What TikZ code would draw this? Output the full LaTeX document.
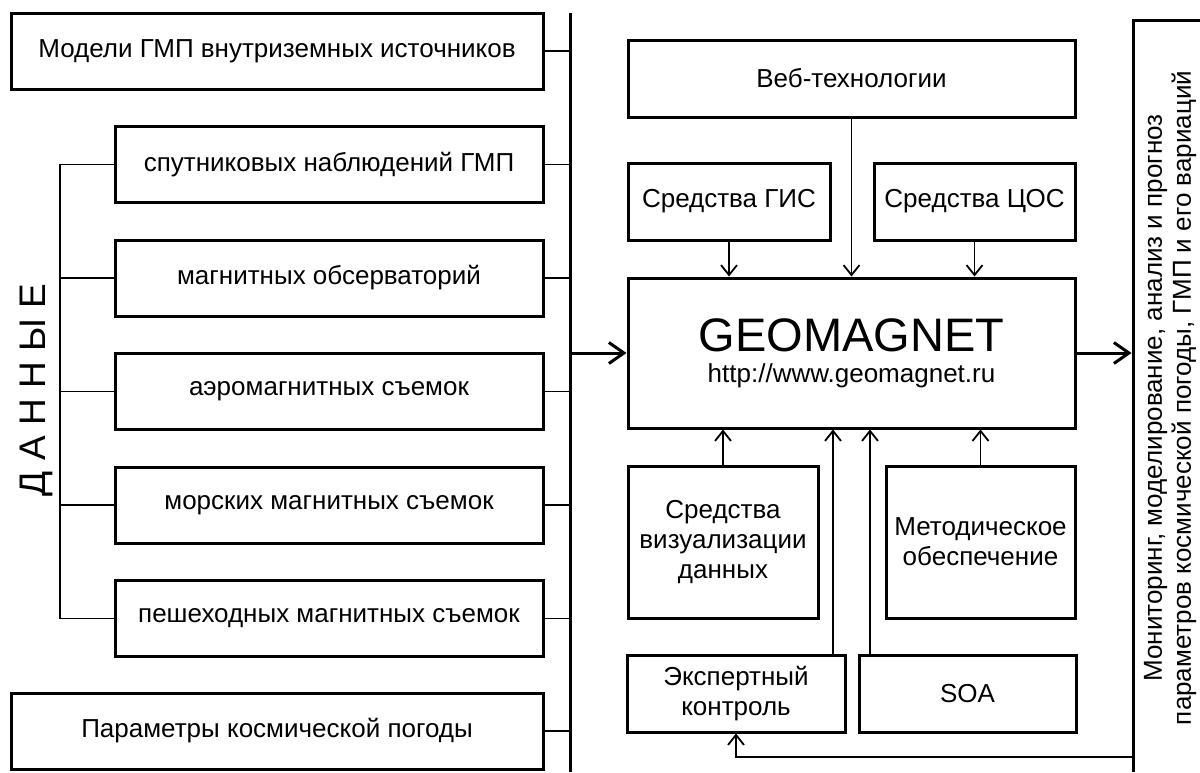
\documentclass[tikz,border=0pt]{standalone}
\usepackage{fontspec}
\setmainfont{Liberation Sans}
\usetikzlibrary{arrows.meta, positioning, calc}
\tikzset{
    blockbox/.style={draw, rectangle, line width=3pt, inner sep=0pt, outer sep=0pt, align=center, font=\fontsize{26}{30}\selectfont},
    databox/.style={blockbox, minimum width=532pt, minimum height=76pt},
    srcbox/.style={blockbox, minimum width=428pt, minimum height=76pt},
    toolbox/.style={blockbox, minimum height=77pt},
    bus/.style={line width=3pt},
    stub/.style={line width=1.4pt},
    mainarrow/.style={line width=3pt, shorten >=1.5pt, -{Straight Barb[length=15pt,width=21pt]}},
    linkarrow/.style={line width=1.4pt, shorten >=1.5pt, -{Straight Barb[length=10pt,width=16pt,line width=1.8pt]}},
}
\begin{document}
\begin{tikzpicture}[x=1pt, y=-1pt, node distance=37.5pt]
    \useasboundingbox (0,0) rectangle (1200,772);

    % Data sources
    \node[databox] (models) at (277,51) {Модели ГМП внутриземных источников};
    \node[srcbox] (sat) at (329,164.5) {спутниковых наблюдений ГМП};
    \node[srcbox, below=of sat] (obs) {магнитных обсерваторий};
    \node[srcbox, below=of obs] (aero) {аэромагнитных съемок};
    \node[srcbox, below=of aero] (sea) {морских магнитных съемок};
    \node[srcbox, below=of sea] (foot) {пешеходных магнитных съемок};
    \node[databox] (space) at (277,731) {Параметры космической погоды};
    \node[rotate=90, font=\fontsize{37}{40}\selectfont] (data) at (36,390) {Д А Н Н Ы Е};

    \coordinate (bustop) at (570,13);
    \coordinate (busend) at (570,772);
    \coordinate (brk) at (60,0);
    \draw[bus] (bustop) -- (busend);
    \foreach \n in {models,sat,obs,aero,sea,foot,space}
        \draw[stub] (\n.east) -- (\n.east -| bustop);
    \draw[stub] (sat.west) -- (sat.west -| brk) -- (foot.west -| brk) -- (foot.west);
    \foreach \n in {obs,aero,sea}
        \draw[stub] (\n.west) -- (\n.west -| brk);

    % Portal and its tools
    \node[blockbox, minimum width=447pt, minimum height=150pt, font=\fontsize{26}{31}\selectfont] (geo) at (851.5,353)
          {{\fontsize{47}{50}\selectfont GEOMAGNET}\\http://www.geomagnet.ru};
    \node[toolbox, minimum width=447pt] (web) at (851.5,78.5) {Веб-технологии};
    \node[toolbox, minimum width=202pt] (gis) at (729,201.5) {Средства ГИС};
    \node[toolbox, minimum width=201pt] (cos) at (974.5,201.5) {Средства ЦОС};
    \node[blockbox, minimum width=190pt, minimum height=152pt] (vis) at (723,542) {Средства\\визуализации\\данных};
    \node[blockbox, minimum width=189pt, minimum height=152pt] (met) at (980.5,542) {Методическое\\обеспечение};
    \node[toolbox, minimum width=218pt] (exp) at (736,693.5) {Экспертный\\контроль};
    \node[toolbox, minimum width=217pt] (soa) at (967.5,693.5) {SOA};

    % Results
    \coordinate (outtop) at (1133,20);
    \coordinate (outbot) at (1133,772);
    \coordinate (outend) at (1200,20);
    \draw[bus] (outbot) -- (outtop) -- (outend);
    \node[rotate=90, align=center, font=\fontsize{26}{29}\selectfont] (goal) at (1170,398)
          {Мониторинг, моделирование, анализ и прогноз\\параметров космической погоды, ГМП и его вариаций};

    \draw[mainarrow] (geo.west -| bustop) -- (geo.west);
    \draw[mainarrow] (geo.east) -- (geo.east -| outtop);
    \draw[linkarrow] (gis.south) -- (gis.south |- geo.north);
    \draw[linkarrow] (web.south) -- (web.south |- geo.north);
    \draw[linkarrow] (cos.south) -- (cos.south |- geo.north);
    \draw[linkarrow] (vis.north) -- (vis.north |- geo.south);
    \draw[linkarrow] (met.north) -- (met.north |- geo.south);
    \draw[linkarrow] ([xshift=-12pt]exp.north east) -- ([xshift=-12pt]exp.north east |- geo.south);
    \draw[linkarrow] ([xshift=11pt]soa.north west) -- ([xshift=11pt]soa.north west |- geo.south);
    \coordinate (fb) at (1133,757);
    \draw[linkarrow] (fb) -| (exp.south);
\end{tikzpicture}
\end{document}
